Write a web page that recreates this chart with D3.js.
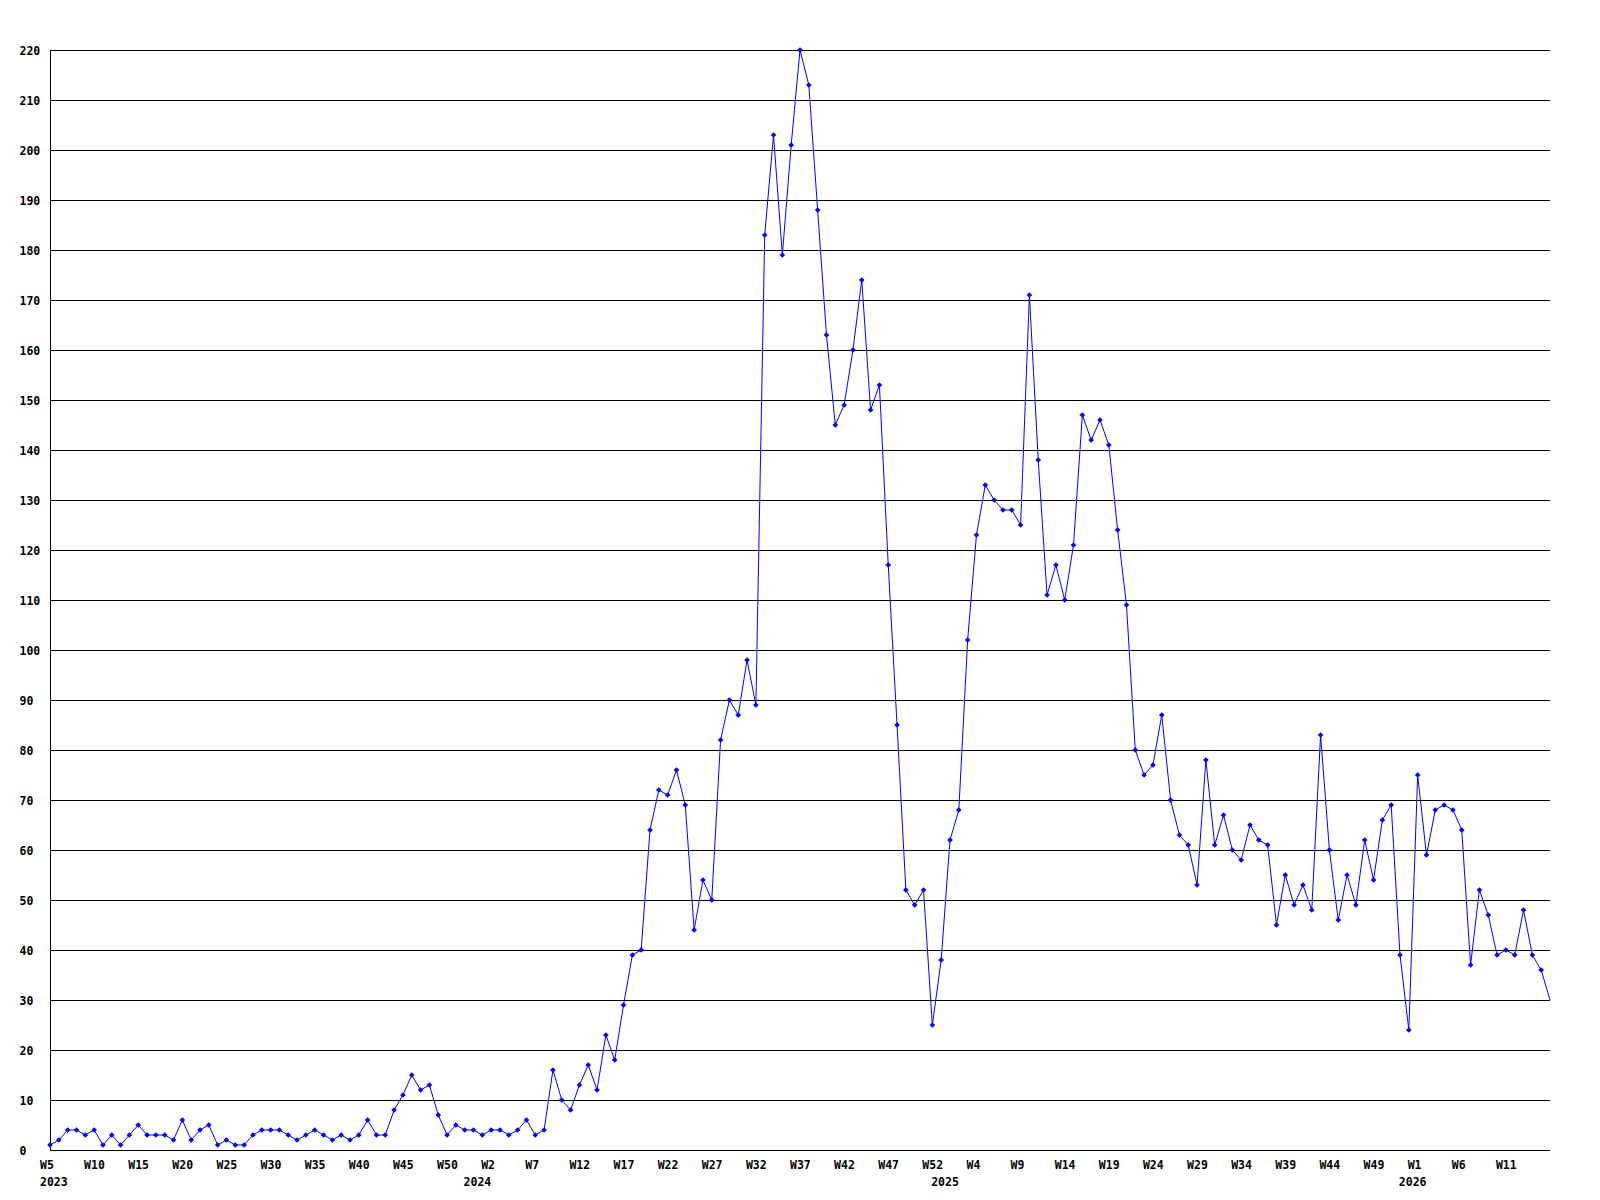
<!DOCTYPE html>
<html lang="en">
<head>
    <meta charset="UTF-8">
    <title>Weekly count</title>
    <style>
        body { margin: 0; background: #fff; }
        svg text {
            font-family: "DejaVu Sans Mono", monospace;
            font-weight: bold;
            font-size: 11.5px;
            fill: #000;
        }
        .grid line { stroke: #000; shape-rendering: crispEdges; }
        .line { fill: none; stroke: #0000ff; stroke-width: 1; }
        .dot { fill: #0000ff; }
    </style>
    <script src="https://d3js.org/d3.v7.min.js"></script>
</head>
<body>
<svg width="1600" height="1200"></svg>
<script>
// one series, split by year (weeks numbered from W0 after the first year)
var years = [2023, 2024, 2025, 2026];
var firstWeek = [5, 0, 0, 0];
var values2023 = [1, 2, 4, 4, 3, 4, 1, 3, 1, 3, 5, 3, 3, 3, 2, 6, 2, 4, 5, 1, 2, 1, 1, 3,
                  4, 4, 4, 3, 2, 3, 4, 3, 2, 3, 2, 3, 6, 3, 3, 8, 11, 15, 12, 13, 7, 3, 5, 4];
var values2024 = [4, 3, 4, 4, 3, 4, 6, 3, 4, 16, 10, 8, 13, 17, 12, 23, 18, 29,
                  39, 40, 64, 72, 71, 76, 69, 44, 54, 50, 82, 90, 87, 98, 89,
                  183, 203, 179, 201, 220, 213, 188, 163, 145, 149, 160, 174, 148, 153,
                  117, 85, 52, 49, 52, 25];
var values2025 = [38, 62, 68, 102, 123, 133, 130, 128, 128, 125, 171, 138, 111, 117, 110, 121,
                  147, 142, 146, 141, 124, 109, 80, 75, 77, 87, 70, 63, 61, 53, 78, 61, 67,
                  60, 58, 65, 62, 61, 45, 55, 49, 53, 48, 83, 60, 46, 55, 49, 62, 54, 66, 69, 39];
var values2026 = [24, 75, 59, 68, 69, 68, 64, 37, 52, 47, 39, 40, 39, 48, 39, 36, 30];
var yTicks = d3.range(0, 221, 10);

var perYear = [values2023, values2024, values2025, values2026];
var data = [];
var yearStarts = [];
perYear.forEach(function(vals, k) {
    yearStarts.push({ i: data.length, label: String(years[k]) });
    vals.forEach(function(v, j) {
        data.push({ i: data.length, week: "W" + (firstWeek[k] + j), value: v });
    });
});

var svg = d3.select("svg");
var plotLeft = 50, plotRight = 1550, plotTop = 50, plotBottom = 1150;

var x = d3.scaleLinear().domain([0, data.length - 1]).range([plotLeft, plotRight]);
var y = d3.scaleLinear().domain([0, 220]).range([plotBottom, plotTop]);

// horizontal grid + y labels
var gy = svg.append("g")
    .attr("class", "grid")
    .attr("transform", "translate(" + plotLeft + ",0)")
    .call(d3.axisLeft(y).tickValues(yTicks).tickSize(-(plotRight - plotLeft)).tickFormat(d3.format("d")));
gy.select(".domain").remove();
gy.selectAll("text")
    .attr("text-anchor", "start")
    .attr("x", -30.5)
    .attr("dy", null)
    .attr("y", 4);

// axis lines
svg.append("line").attr("x1", plotLeft + 0.5).attr("x2", plotLeft + 0.5)
    .attr("y1", plotTop).attr("y2", plotBottom + 0.5)
    .attr("stroke", "#000").attr("shape-rendering", "crispEdges");
svg.append("line").attr("x1", plotLeft).attr("x2", plotRight)
    .attr("y1", plotBottom + 0.5).attr("y2", plotBottom + 0.5)
    .attr("stroke", "#000").attr("shape-rendering", "crispEdges");

// week labels every 5 points (the last, partial point gets none)
var weekTicks = data.filter(function(d) { return d.i % 5 === 0 && d.i < data.length - 1; });
var gx = svg.append("g")
    .attr("transform", "translate(0," + plotBottom + ")")
    .call(d3.axisBottom(x).tickValues(weekTicks.map(function(d) { return d.i; }))
        .tickSize(0)
        .tickFormat(function(i) { return data[i].week; }));
gx.select(".domain").remove();
gx.selectAll("text")
    .attr("text-anchor", "start")
    .attr("x", -10.5)
    .attr("dy", null)
    .attr("y", 19);

// year labels
var gyear = svg.append("g")
    .attr("transform", "translate(0," + plotBottom + ")")
    .call(d3.axisBottom(x).tickValues(yearStarts.map(function(d) { return d.i; }))
        .tickSize(0)
        .tickFormat(function(i) {
            return yearStarts.find(function(d) { return d.i === i; }).label;
        }));
gyear.select(".domain").remove();
gyear.selectAll("text")
    .attr("text-anchor", "start")
    .attr("x", -10.5)
    .attr("dy", null)
    .attr("y", 35.5);

// series
var line = d3.line()
    .x(function(d) { return x(d.i); })
    .y(function(d) { return y(d.value); });

svg.append("path")
    .datum(data)
    .attr("class", "line")
    .attr("d", line);

svg.selectAll(".dot")
    .data(data.slice(0, data.length - 1))
    .enter().append("path")
    .attr("class", "dot")
    .attr("d", d3.symbol(d3.symbolSquare, 16))
    .attr("transform", function(d) {
        return "translate(" + x(d.i) + "," + y(d.value) + ") rotate(45)";
    });
</script>
</body>
</html>
